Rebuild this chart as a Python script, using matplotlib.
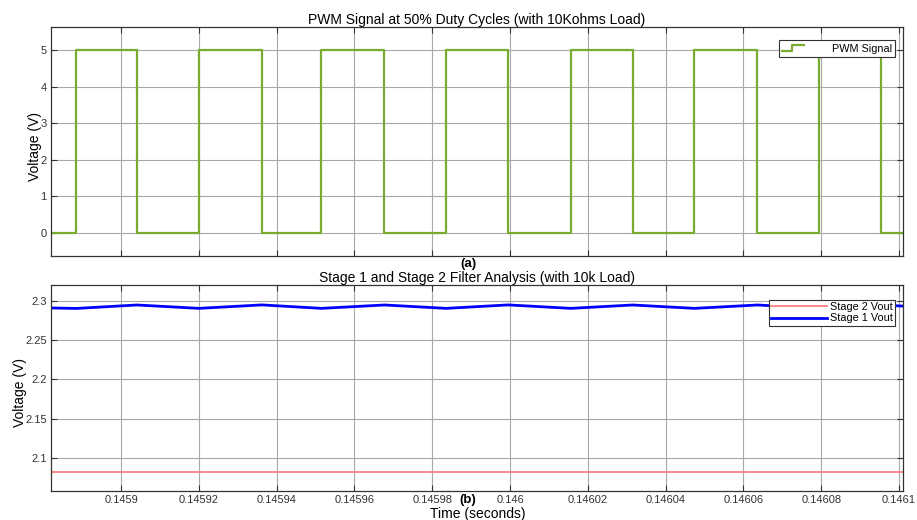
import numpy as np
import matplotlib
matplotlib.use("Agg")
import matplotlib.pyplot as plt
from matplotlib.lines import Line2D
from matplotlib.legend_handler import HandlerLine2D

plt.rcParams['font.family'] = ['Liberation Sans', 'DejaVu Sans']

# edge times (seconds)
rise_t = [0.1458885, 0.14592, 0.1459515, 0.1459836, 0.1460156, 0.1460474, 0.1460795]
fall_t = [0.1459041, 0.1459362, 0.1459677, 0.1459995, 0.1460315, 0.1460636, 0.1460954]
pwm_high = 5.0
pwm_low = 0.0

# filter outputs
stage1_t = [0.145882, 0.1458885, 0.1459041, 0.14592, 0.1459362, 0.1459515, 0.1459677,
            0.1459836, 0.1459995, 0.1460156, 0.1460315, 0.1460474, 0.1460636,
            0.1460795, 0.1460954, 0.146101]
stage1_v = [2.2912, 2.2906, 2.2950, 2.2907, 2.2951, 2.2907, 2.2950,
            2.2907, 2.2951, 2.2907, 2.2950, 2.2907, 2.2950,
            2.2907, 2.2950, 2.2936]
stage2_v = 2.0822

t_start, t_end = 0.145882, 0.146101
xticks = [0.1459, 0.14592, 0.14594, 0.14596, 0.14598, 0.146,
          0.14602, 0.14604, 0.14606, 0.14608, 0.1461]
xtick_labels = ['0.1459', '0.14592', '0.14594', '0.14596', '0.14598', '0.146',
                '0.14602', '0.14604', '0.14606', '0.14608', '0.1461']

# build the square wave from the edges
pt = [t_start]
pv = [pwm_low]
for r, f in zip(rise_t, fall_t):
    pt += [r, r, f, f]
    pv += [pwm_low, pwm_high, pwm_high, pwm_low]
pt.append(t_end)
pv.append(pwm_low)


class StepHandler(HandlerLine2D):
    def create_artists(self, legend, orig_handle, xdescent, ydescent,
                       width, height, fontsize, trans):
        x0 = -xdescent
        y0 = -ydescent
        xs = [x0, x0 + width * 0.45, x0 + width * 0.45, x0 + width]
        ys = [y0 + height * 0.1, y0 + height * 0.1, y0 + height * 0.9, y0 + height * 0.9]
        ln = Line2D(xs, ys, color=orig_handle.get_color(), lw=orig_handle.get_linewidth())
        ln.set_transform(trans)
        return [ln]


fig = plt.figure(figsize=(9.17, 5.2), dpi=100)
ax1 = fig.add_axes([51 / 917, 1 - 256 / 520, 852 / 917, 229 / 520])
ax2 = fig.add_axes([51 / 917, 1 - 491 / 520, 852 / 917, 206 / 520])

green = '#77AC30'
pwm_line, = ax1.plot(pt, pv, color=green, lw=1.6, label='PWM Signal')
ax1.set_xlim(t_start, t_end)
ax1.set_ylim(-0.63, 5.63)
ax1.set_yticks([0, 1, 2, 3, 4, 5])
ax1.set_xticks(xticks)
ax1.set_xticklabels([])
ax1.set_ylabel('Voltage (V)', fontsize=10, va='center')
ax1.yaxis.set_label_coords(-16 / 852, 0.48)
ax1.set_title('PWM Signal at 50% Duty Cycles (with 10Kohms Load)', fontsize=10, pad=2)
leg1 = ax1.legend(handles=[pwm_line], handler_map={Line2D: StepHandler()},
                  loc='upper right', bbox_to_anchor=(0.9975, 0.965), fontsize=7.8,
                  fancybox=False, edgecolor='#333333', framealpha=1,
                  borderpad=0.3, handlelength=2.0, handletextpad=2.6)
leg1.get_frame().set_linewidth(0.8)

red_line, = ax2.plot([t_start, t_end], [stage2_v, stage2_v], color='#FF8080', lw=1.3,
                     label='Stage 2 Vout')
blue_line, = ax2.plot(stage1_t, stage1_v, color='#0000FF', lw=2.0, label='Stage 1 Vout')
ax2.set_xlim(t_start, t_end)
ax2.set_ylim(2.0577, 2.3205)
ax2.set_yticks([2.1, 2.15, 2.2, 2.25, 2.3])
ax2.set_yticklabels(['2.1', '2.15', '2.2', '2.25', '2.3'])
ax2.set_xticks(xticks)
ax2.set_xticklabels(xtick_labels)
ax2.set_ylabel('Voltage (V)', fontsize=10, va='center')
ax2.yaxis.set_label_coords(-31 / 852, 0.48)
ax2.set_title('Stage 1 and Stage 2 Filter Analysis (with 10k Load)', fontsize=10, pad=2)
leg2 = ax2.legend(handles=[red_line, blue_line], loc='upper right',
                  bbox_to_anchor=(0.9975, 0.955), fontsize=7.8, fancybox=False,
                  edgecolor='#333333', framealpha=1, borderpad=0.2,
                  labelspacing=0.15, handlelength=5.2, handletextpad=0.3)
leg2.get_frame().set_linewidth(0.8)

for ax in (ax1, ax2):
    ax.grid(True, color='#a8a8a8', lw=0.8)
    ax.tick_params(direction='in', top=True, right=True, labelsize=8,
                   length=4, width=0.8, colors='#333333', pad=3)
    for s in ax.spines.values():
        s.set_linewidth(0.9)
        s.set_color('#333333')

fig.text(468 / 917, 1 - 264 / 520, '(a)', fontsize=9.5, fontweight='bold',
         ha='center', va='center')
fig.text(468 / 917, 1 - 500 / 520, '(b)', fontsize=9.5, fontweight='bold',
         ha='center', va='center')
fig.text(478 / 917, 1 - 514 / 520, 'Time (seconds)', fontsize=10,
         ha='center', va='center')

fig.savefig('out.png', dpi=100)
